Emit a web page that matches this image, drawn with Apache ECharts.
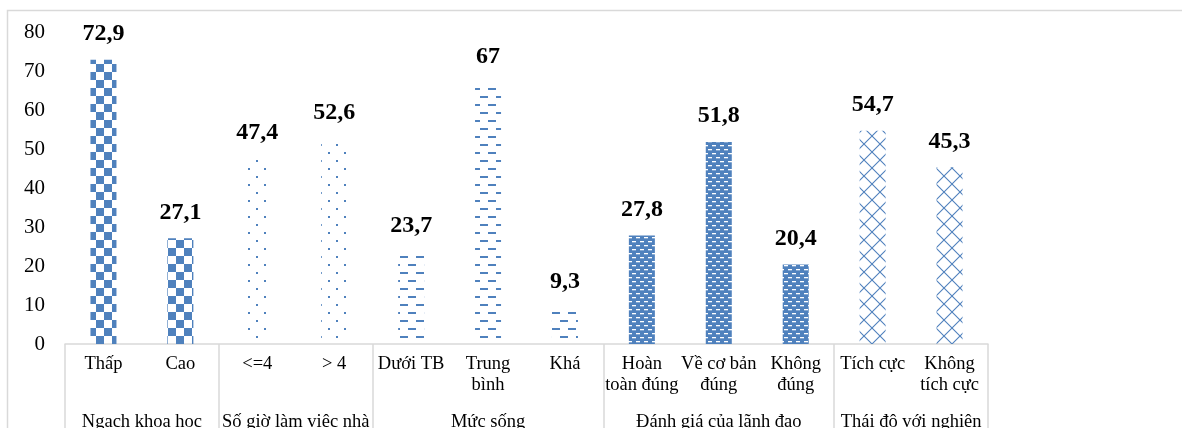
<!DOCTYPE html>
<html>
<head>
<meta charset="utf-8">
<script src="https://cdn.jsdelivr.net/npm/echarts@6/dist/echarts.min.js"></script>
<style>html,body{margin:0;padding:0;background:#fff}#c{width:1182px;height:428px}</style>
</head>
<body>
<div id="c"></div>
<script>
// ---- data ----
const categories = ['Thấp', 'Cao', '<=4', '> 4', 'Dưới TB', 'Trung\nbình', 'Khá',
  'Hoàn\ntoàn đúng', 'Về cơ bản\nđúng', 'Không\nđúng', 'Tích cực', 'Không\ntích cực'];
const values = [72.9, 27.1, 47.4, 52.6, 23.7, 67, 9.3, 27.8, 51.8, 20.4, 54.7, 45.3];
const groupNames = ['Ngạch khoa học', 'Số giờ làm việc nhà', 'Mức sống', 'Đánh giá của lãnh đạo', 'Thái độ với nghiên'];
const groupSizes = [2, 2, 3, 3, 2];
const yTicks = [0, 10, 20, 30, 40, 50, 60, 70, 80];

// ---- patterns ----
const BLUE = '#4f81bd';
function tile(w, h, draw) {
  const c = document.createElement('canvas');
  c.width = w; c.height = h;
  const g = c.getContext('2d');
  draw(g);
  return { image: c, repeat: 'repeat' };
}
const patterns = [
  tile(16, 16, g => { g.fillStyle = BLUE; g.fillRect(0, 0, 8, 8); g.fillRect(8, 8, 8, 8); }),
  tile(16, 16, g => { g.fillStyle = BLUE; g.fillRect(0, 0, 2, 2); g.fillRect(8, 8, 2, 2); }),
  tile(16, 16, g => { g.fillStyle = BLUE; g.fillRect(0, 0, 8, 2); g.fillRect(8, 8, 8, 2); }),
  tile(8, 8, g => { g.fillStyle = BLUE; g.fillRect(0, 0, 8, 8); g.fillStyle = '#fff'; g.fillRect(0, 1, 4, 1.3); g.fillRect(4, 5, 4, 1.3); }),
  tile(16, 16, g => { g.strokeStyle = BLUE; g.lineWidth = 1.1; g.beginPath();
    g.moveTo(0, 0); g.lineTo(16, 16); g.moveTo(16, 0); g.lineTo(0, 16);
    g.moveTo(-8, 8); g.lineTo(8, 24); g.moveTo(8, -8); g.lineTo(24, 8);
    g.stroke(); })
];

const groupOf = [];
const groupStarts = [];
const groupCenters = {};
let acc = 0;
groupSizes.forEach((s, gi) => {
  groupStarts.push(acc);
  groupCenters[acc + s / 2] = groupNames[gi];
  for (let k = 0; k < s; k++) groupOf.push(gi);
  acc += s;
});

const FONT = 'Liberation Serif';
const chart = echarts.init(document.getElementById('c'));
chart.setOption({
  animation: false,
  backgroundColor: '#fff',
  grid: { left: 65, right: 194, top: 32, bottom: 84, containLabel: false, outerBoundsMode: 'none' },
  graphic: [{ type: 'rect', shape: { x: 7.5, y: 10.5, width: 1400, height: 600 },
    style: { fill: 'none', stroke: '#d9d9d9', lineWidth: 1.5 }, silent: true }],
  xAxis: [{
    type: 'category', data: categories, position: 'bottom',
    axisLine: { show: true, lineStyle: { color: '#d9d9d9', width: 1.5 } },
    axisTick: { show: true, length: 100, interval: (i) => groupStarts.includes(i),
      lineStyle: { color: '#d9d9d9', width: 1.5 } },
    axisLabel: { interval: 0, margin: 10, color: '#000', fontFamily: FONT, fontSize: 18.5,
      lineHeight: 21, align: 'center' },
    splitLine: { show: false }
  }, {
    type: 'value', min: 0, max: categories.length, interval: 0.5, position: 'bottom',
    axisLine: { show: false }, axisTick: { show: false }, splitLine: { show: false },
    axisLabel: { margin: 69, color: '#000', fontFamily: FONT, fontSize: 18.5,
      showMinLabel: true, showMaxLabel: true,
      formatter: v => groupCenters[v] || '' }
  }],
  yAxis: {
    type: 'value', min: yTicks[0], max: yTicks[yTicks.length - 1], interval: 10,
    axisLine: { show: false }, axisTick: { show: false }, splitLine: { show: false },
    axisLabel: { margin: 20, color: '#000', fontFamily: FONT, fontSize: 21 }
  },
  series: [{
    type: 'bar', xAxisIndex: 0, barWidth: 26,
    data: values.map((v, i) => ({ value: v, itemStyle: { color: patterns[groupOf[i]] } })),
    label: { show: true, position: 'top', distance: 14, color: '#000', fontFamily: FONT,
      fontSize: 24, fontWeight: 'bold', formatter: p => String(p.value).replace('.', ',') }
  }]
});
</script>
</body>
</html>
